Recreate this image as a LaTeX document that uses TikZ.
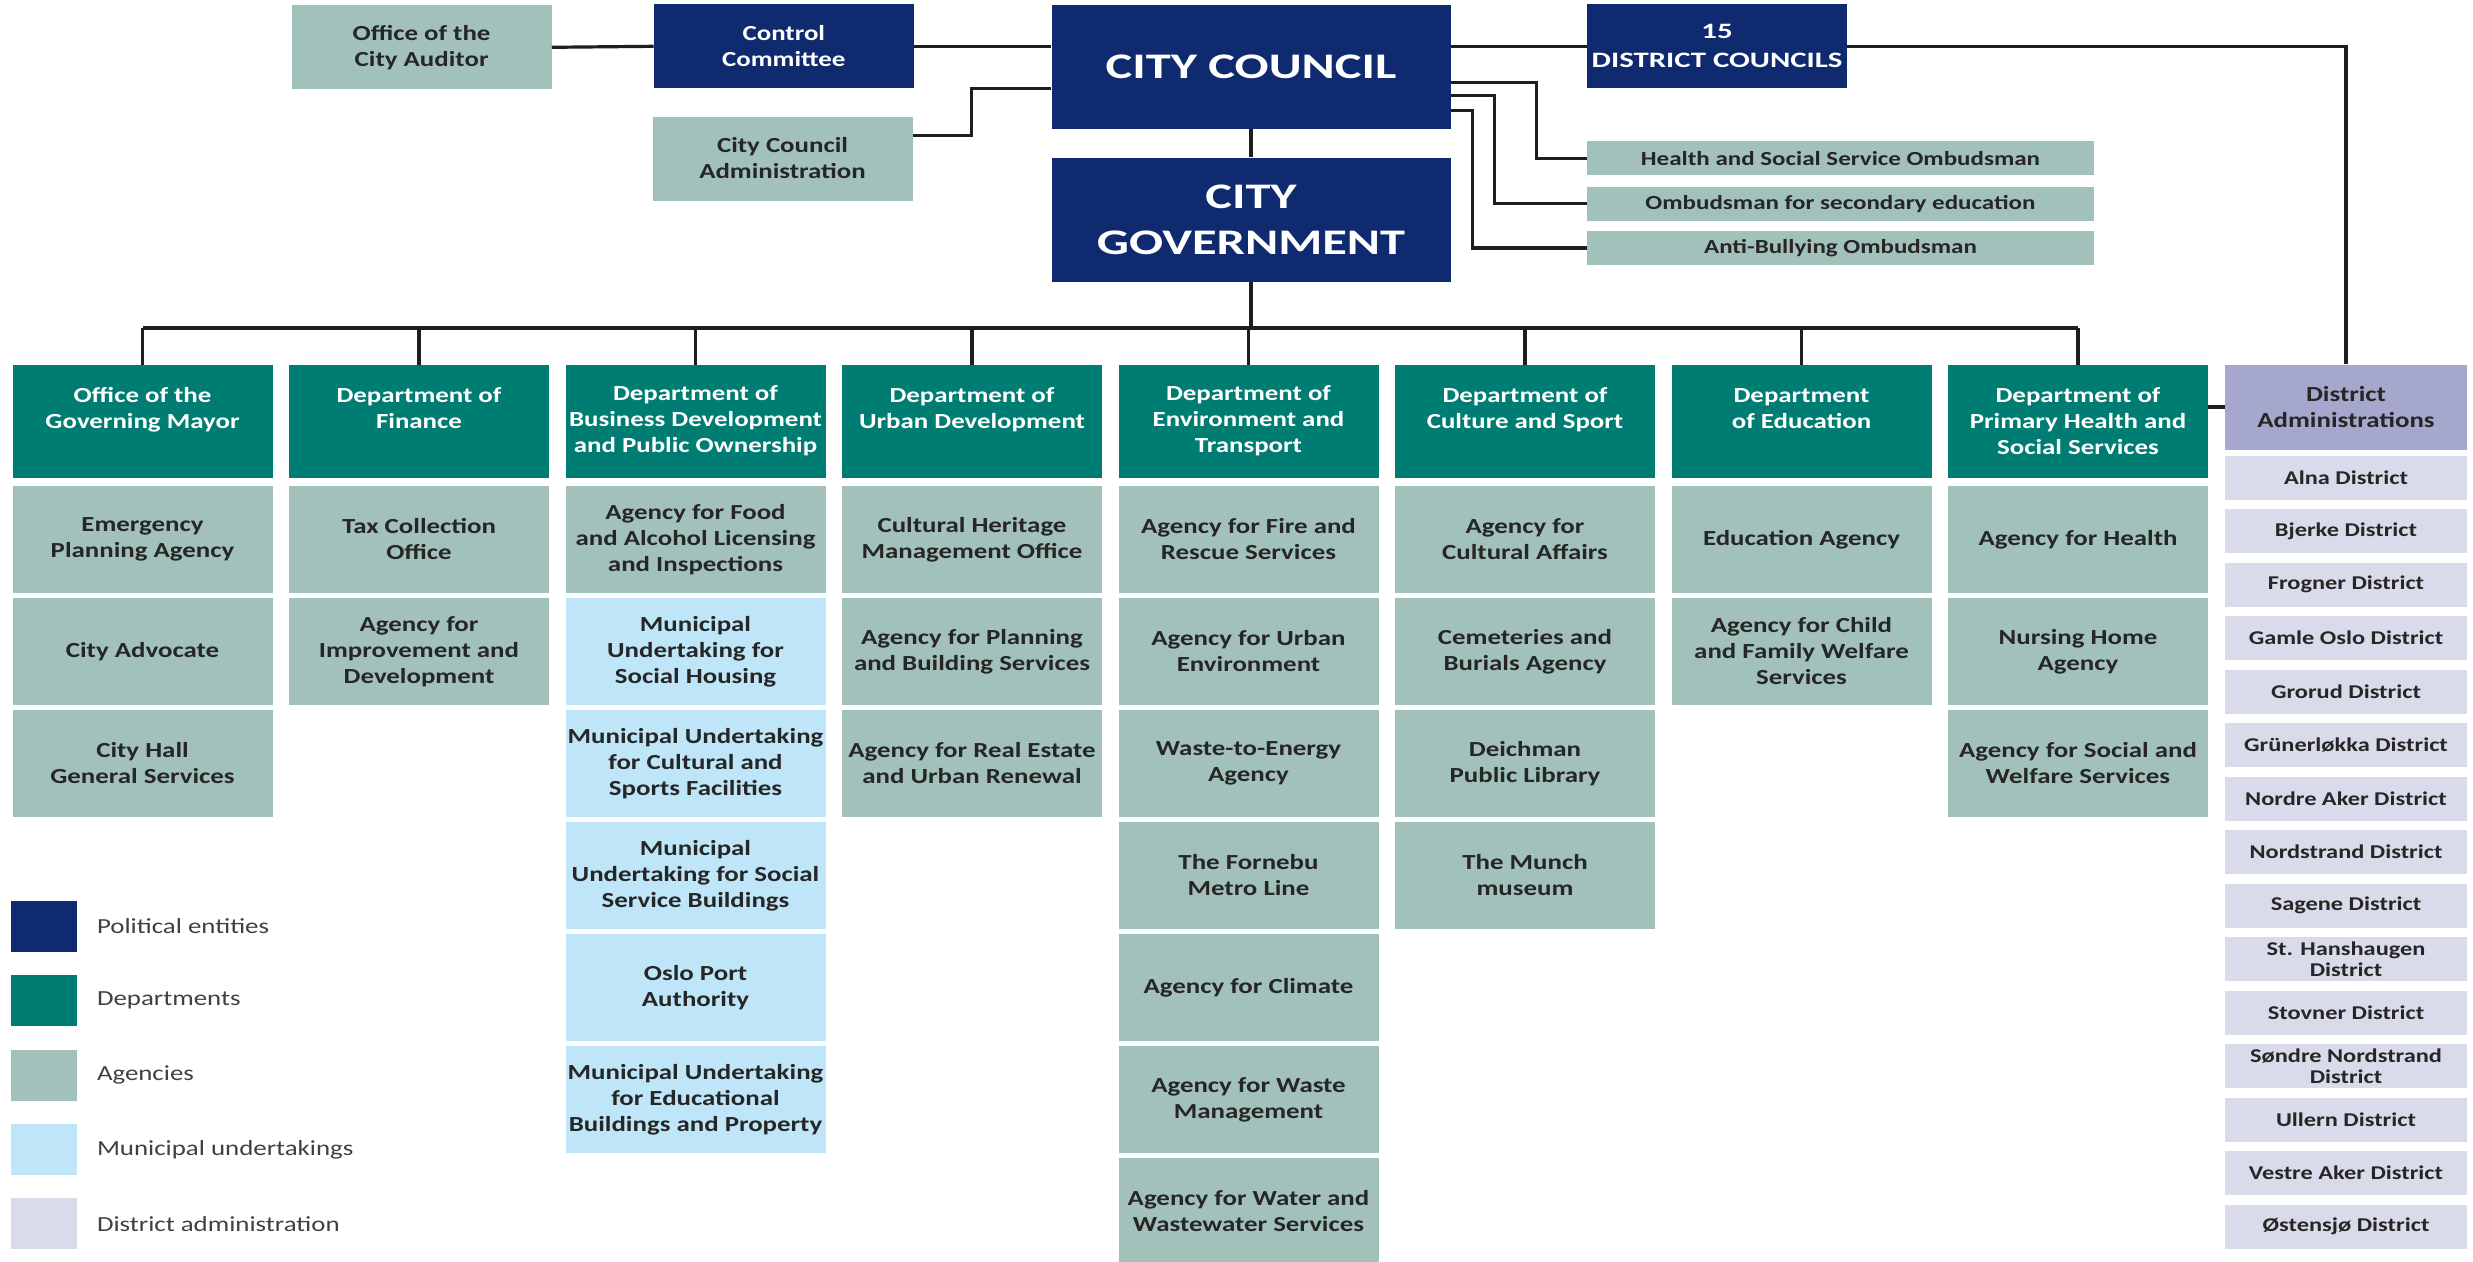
\documentclass[tikz,border=0pt]{standalone}
\usepackage{fontspec}
\setmainfont{Carlito}[FakeStretch=1.25]
\newfontfamily\widefamily{Carlito}[FakeStretch=1.4]
\usepackage{tikz}
\usetikzlibrary{positioning,calc}

\definecolor{polblue}{HTML}{0F2A6F}
\definecolor{deptgreen}{HTML}{007D73}
\definecolor{agencygreen}{HTML}{A2C1BB}
\definecolor{munblue}{HTML}{BFE6F8}
\definecolor{distpurple}{HTML}{A6A7CC}
\definecolor{distgray}{HTML}{DADBEA}
\definecolor{boxtext}{HTML}{262626}
\definecolor{keytext}{HTML}{404040}
\definecolor{linkgray}{HTML}{1E1E1E}

\newcommand{\boxfont}{\fontsize{21.5}{26}\selectfont\bfseries}
\newcommand{\ombfont}{\fontsize{20}{22}\selectfont\bfseries}
\newcommand{\distfont}{\fontsize{19.5}{21}\selectfont\bfseries}
\newcommand{\headfont}{\widefamily\fontsize{36}{46}\selectfont\bfseries}
\newcommand{\dcfont}{\widefamily\fontsize{22}{30}\selectfont\bfseries}
\newcommand{\keyfont}{\fontsize{21.5}{26}\selectfont}

\begin{document}
\begin{tikzpicture}[x=1pt, y=1pt,
    box/.style={inner sep=0pt, align=center, minimum width=260pt, text=boxtext, font=\boxfont},
    political/.style={box, fill=polblue, text=white},
    dept/.style={box, fill=deptgreen, text=white, minimum height=113pt},
    agency/.style={box, fill=agencygreen, minimum height=107pt},
    muni/.style={box, fill=munblue, minimum height=107pt},
    ombud/.style={box, fill=agencygreen, minimum width=507pt, minimum height=34pt, font=\ombfont},
    district/.style={box, fill=distgray, minimum width=242pt, minimum height=44pt, font=\distfont},
    keybox/.style={inner sep=0pt, minimum width=66pt, minimum height=51pt},
    keylabel/.style={inner sep=0pt, text=keytext, font=\keyfont},
    link/.style={draw=linkgray, line width=3.2pt}]

    \useasboundingbox (0,0) rectangle (2473,-1261);
    \fill[white] (0,0) rectangle (2473,-1261);

    % political level
    \node[agency, minimum height=84pt] (auditor) at (421.6,-47.3) {Office of the\\City Auditor};
    \node[political, minimum height=84pt] (control) at (783.8,-46.3) {Control\\Committee};
    \node[political, minimum width=399pt, minimum height=124pt, font=\headfont] (council) at (1251,-66.5) {CITY COUNCIL};
    \node[political, minimum height=84pt, font=\dcfont] (districtcouncils) at (1717,-46.3) {15\\[-1pt]DISTRICT COUNCILS};
    \node[agency, minimum height=84pt] (admin) at (782.5,-158.5) {City Council\\Administration};
    \node[political, minimum width=399pt, minimum height=124pt, font=\headfont] (government) at (1251,-219.5) {CITY\\GOVERNMENT};
    \node[ombud] (omb1) at (1840.5,-158.3) {Health and Social Service Ombudsman};
    \node[ombud] (omb2) at (1840.5,-203.7) {Ombudsman for secondary education};
    \node[ombud] (omb3) at (1840.5,-248) {Anti-Bullying Ombudsman};

    % departments
    \foreach \t [count=\i] in {{Office of the\\Governing Mayor\\~},
        {Department of\\Finance\\~},
        {Department of\\Business Development\\and Public Ownership},
        {Department of\\Urban Development\\~},
        {Department of\\Environment and\\Transport},
        {Department of\\Culture and Sport\\~},
        {Department\\of Education\\~},
        {Department of\\Primary Health and\\Social Services}}
        \node[dept] (dept\i) at ({142.5+276.5*(\i-1)},-421.2) {\t};
    \node[box, fill=distpurple, minimum width=242pt, minimum height=85pt] (distadmin) at (2346,-407) {District\\Administrations};

    % agencies and undertakings
    \foreach \t [count=\k] in {{Emergency\\Planning Agency}, {City Advocate}, {City Hall\\General Services}}
        \node[agency] (ag1-\k) at (142.5,{-539.5-112*(\k-1)}) {\t};
    \foreach \t [count=\k] in {{Tax Collection\\Office}, {Agency for\\Improvement and\\Development}}
        \node[agency] (ag2-\k) at (419,{-539.5-112*(\k-1)}) {\t};
    \node[agency] (ag3-1) at (695.5,-539.5) {Agency for Food\\and Alcohol Licensing\\and Inspections};
    \foreach \t [count=\k from 2] in {{Municipal\\Undertaking for\\Social Housing},
        {Municipal Undertaking\\for Cultural and\\Sports Facilities},
        {Municipal\\Undertaking for Social\\Service Buildings},
        {Oslo Port\\Authority},
        {Municipal Undertaking\\for Educational\\Buildings and Property}}
        \node[muni] (ag3-\k) at (695.5,{-539.5-112*(\k-1)}) {\t};
    \foreach \t [count=\k] in {{Cultural Heritage\\Management Office}, {Agency for Planning\\and Building Services}, {Agency for Real Estate\\and Urban Renewal}}
        \node[agency] (ag4-\k) at (972,{-539.5-112*(\k-1)}) {\t};
    \foreach \t [count=\k] in {{Agency for Fire and\\Rescue Services}, {Agency for Urban\\Environment},
        {Waste-to-Energy\\Agency}, {The Fornebu\\Metro Line}, {Agency for Climate},
        {Agency for Waste\\Management}, {Agency for Water and\\Wastewater Services}}
        \node[agency] (ag5-\k) at (1248.5,{-539.5-112*(\k-1)}) {\t};
    \foreach \t [count=\k] in {{Agency for\\Cultural Affairs}, {Cemeteries and\\Burials Agency}, {Deichman\\Public Library}, {The Munch\\museum}}
        \node[agency] (ag6-\k) at (1525,{-539.5-112*(\k-1)}) {\t};
    \foreach \t [count=\k] in {{Education Agency}, {Agency for Child\\and Family Welfare\\Services}}
        \node[agency] (ag7-\k) at (1801.5,{-539.5-112*(\k-1)}) {\t};
    \foreach \t [count=\k] in {{Agency for Health}, {Nursing Home\\Agency}, {Agency for Social and\\Welfare Services}}
        \node[agency] (ag8-\k) at (2078,{-539.5-112*(\k-1)}) {\t};

    % districts
    \foreach \t [count=\k] in {Alna District, Bjerke District, Frogner District, Gamle Oslo District,
        Grorud District, Grünerløkka District, Nordre Aker District, Nordstrand District,
        Sagene District, {St. Hanshaugen\\District}, Stovner District, {Søndre Nordstrand\\District},
        Ullern District, Vestre Aker District, Østensjø District}
        \node[district] (dist\k) at (2346,{-477.7-53.5*(\k-1)}) {\t};

    % legend
    \foreach \c/\t [count=\k] in {polblue/Political entities, deptgreen/Departments, agencygreen/Agencies,
        munblue/Municipal undertakings, distgray/District administration} {
        \node[keybox, fill=\c] (legend\k) at (43.6,{-926.5-74.3*(\k-1)}) {};
        \node[keylabel, right=20pt of legend\k] (legendtext\k) {\t};
    }

    % connectors
    \coordinate (bus) at (0,-328);
    \draw[link] (auditor.east) -- (control.west);
    \draw[link] (control.east) -- (control.east -| council.west);
    \draw[link] (council.east |- districtcouncils.west) -- (districtcouncils.west);
    \draw[link] (districtcouncils.east) -| (distadmin.north);
    \draw[link] ([yshift=-19pt]admin.north east) -- ++(59,0) |- ([yshift=40pt]council.south west);
    \draw[link] ([yshift=-78pt]council.north east) -- ++(86,0) |- (omb1.west);
    \draw[link] ([yshift=-91pt]council.north east) -- ++(44,0) |- (omb2.west);
    \draw[link] ([yshift=-106pt]council.north east) -- ++(22,0) |- (omb3.west);
    \draw[link] (council.south) -- (government.north);
    \draw[link] (government.south) -- (government.south |- bus);
    \draw[link] (dept1.north |- bus) -- (dept8.north |- bus);
    \foreach \i in {1,...,8}
        \draw[link] (dept\i.north) -- (dept\i.north |- bus);
    \draw[link] (distadmin.west) -- (distadmin.west -| dept8.east);
\end{tikzpicture}
\end{document}
